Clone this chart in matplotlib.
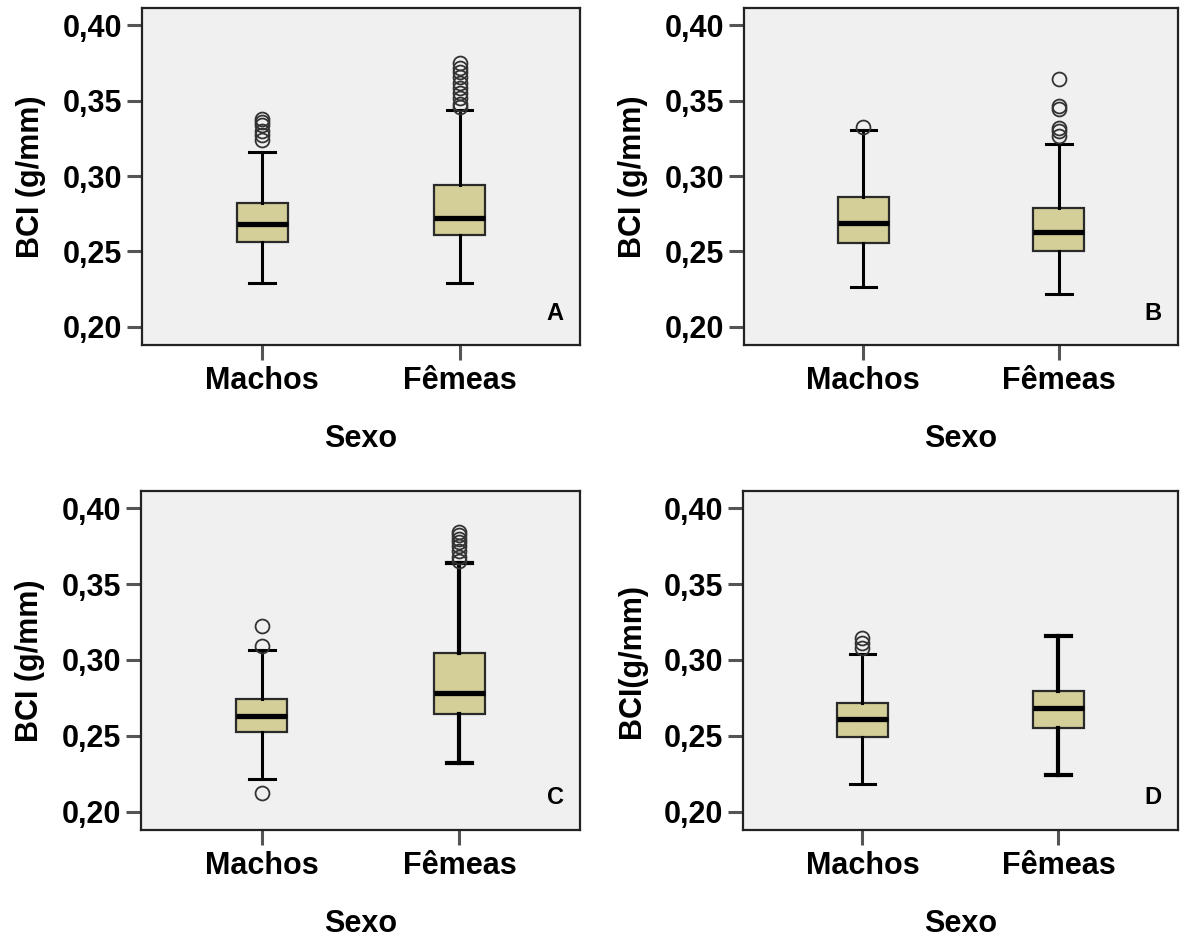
import matplotlib
matplotlib.use("Agg")
import matplotlib.pyplot as plt
import matplotlib.ticker as ticker

plt.rcParams['font.family'] = ['Liberation Sans', 'DejaVu Sans']
plt.rcParams['font.weight'] = 'bold'

# Data: (lower whisker, Q1, median, Q3, upper whisker) + outliers
groups = ['Machos', 'Fêmeas']
panels = ['A', 'B', 'C', 'D']
ylabels = ['BCI (g/mm)', 'BCI (g/mm)', 'BCI (g/mm)', 'BCI(g/mm)']

machos_stats = {
    'A': [0.2292, 0.2564, 0.2685, 0.2824, 0.3156],
    'B': [0.2264, 0.2554, 0.2688, 0.2862, 0.3308],
    'C': [0.2213, 0.2523, 0.2631, 0.2743, 0.3066],
    'D': [0.2182, 0.2495, 0.2609, 0.2719, 0.3040],
}
femeas_stats = {
    'A': [0.2292, 0.2606, 0.2725, 0.2939, 0.3436],
    'B': [0.2218, 0.2505, 0.2626, 0.2791, 0.3215],
    'C': [0.2320, 0.2645, 0.2785, 0.3045, 0.3640],
    'D': [0.2242, 0.2554, 0.2681, 0.2798, 0.3158],
}
machos_out = {
    'A': [0.338, 0.336, 0.334, 0.330, 0.327, 0.324],
    'B': [0.3323],
    'C': [0.3226, 0.3095, 0.2121],
    'D': [0.3143, 0.3110, 0.3077],
}
femeas_out = {
    'A': [0.3746, 0.3713, 0.369, 0.3657, 0.3613, 0.358, 0.3547, 0.3514, 0.348, 0.346],
    'B': [0.3644, 0.3466, 0.3444, 0.3319, 0.3297, 0.3264],
    'C': [0.3845, 0.3825, 0.380, 0.3775, 0.375, 0.3715, 0.368, 0.365],
    'D': [],
}

yticks = [0.20, 0.25, 0.30, 0.35, 0.40]

axes_pos = {
    'A': [0.1199, 0.6341, 0.3699, 0.3574],
    'B': [0.6284, 0.6341, 0.3666, 0.3574],
    'C': [0.1191, 0.1198, 0.3708, 0.3595],
    'D': [0.6275, 0.1198, 0.3674, 0.3595],
}
# the lower-right boxes are drawn with heavier lines in the original
femeas_lw = {'A': 2.2, 'B': 2.2, 'C': 3.0, 'D': 3.0}

fill = '#D4CF98'
fig = plt.figure(figsize=(11.84, 9.43), dpi=100)

for p, ylab in zip(panels, ylabels):
    ax = fig.add_axes(axes_pos[p])
    ax.set_facecolor('#F0F0F0')
    series = [(groups[0], machos_stats[p], machos_out[p], 2.2),
              (groups[1], femeas_stats[p], femeas_out[p], femeas_lw[p])]
    for i, (g, s, o, lw) in enumerate(series):
        st = dict(label=g, whislo=s[0], q1=s[1], med=s[2], q3=s[3],
                  whishi=s[4], fliers=o)
        ax.bxp([st], positions=[i + 1], widths=0.26, patch_artist=True,
               capwidths=0.13,
               boxprops=dict(facecolor=fill, edgecolor='#2a2a2a', linewidth=1.6),
               medianprops=dict(color='black', linewidth=3.8),
               whiskerprops=dict(color='black', linewidth=lw),
               capprops=dict(color='black', linewidth=lw),
               flierprops=dict(marker='o', markersize=10, markerfacecolor='none',
                               markeredgecolor='#333333', markeredgewidth=1.3))
    ax.set_xlim(0.39, 2.61)
    ax.set_ylim(0.188, 0.4113)
    ax.set_yticks(yticks)
    ax.yaxis.set_major_formatter(ticker.FuncFormatter(
        lambda v, pos: f"{v:.2f}".replace('.', ',')))
    ax.set_xticks([1, 2])
    ax.set_xticklabels(groups)
    ax.tick_params(axis='both', length=11, width=2.2, color='#555555',
                   labelsize=22, pad=4)
    ax.tick_params(axis='y', pad=3)
    for sp in ax.spines.values():
        sp.set_linewidth(1.6)
        sp.set_color('#222222')
    ax.set_ylabel(ylab, fontsize=22, fontweight='bold', labelpad=12)
    ax.set_xlabel('Sexo', fontsize=22, fontweight='bold', labelpad=20)
    ax.text(0.943, 0.095, p, transform=ax.transAxes, ha='center', va='center',
            fontsize=17, fontweight='bold')

fig.savefig('out.png', dpi=100)
